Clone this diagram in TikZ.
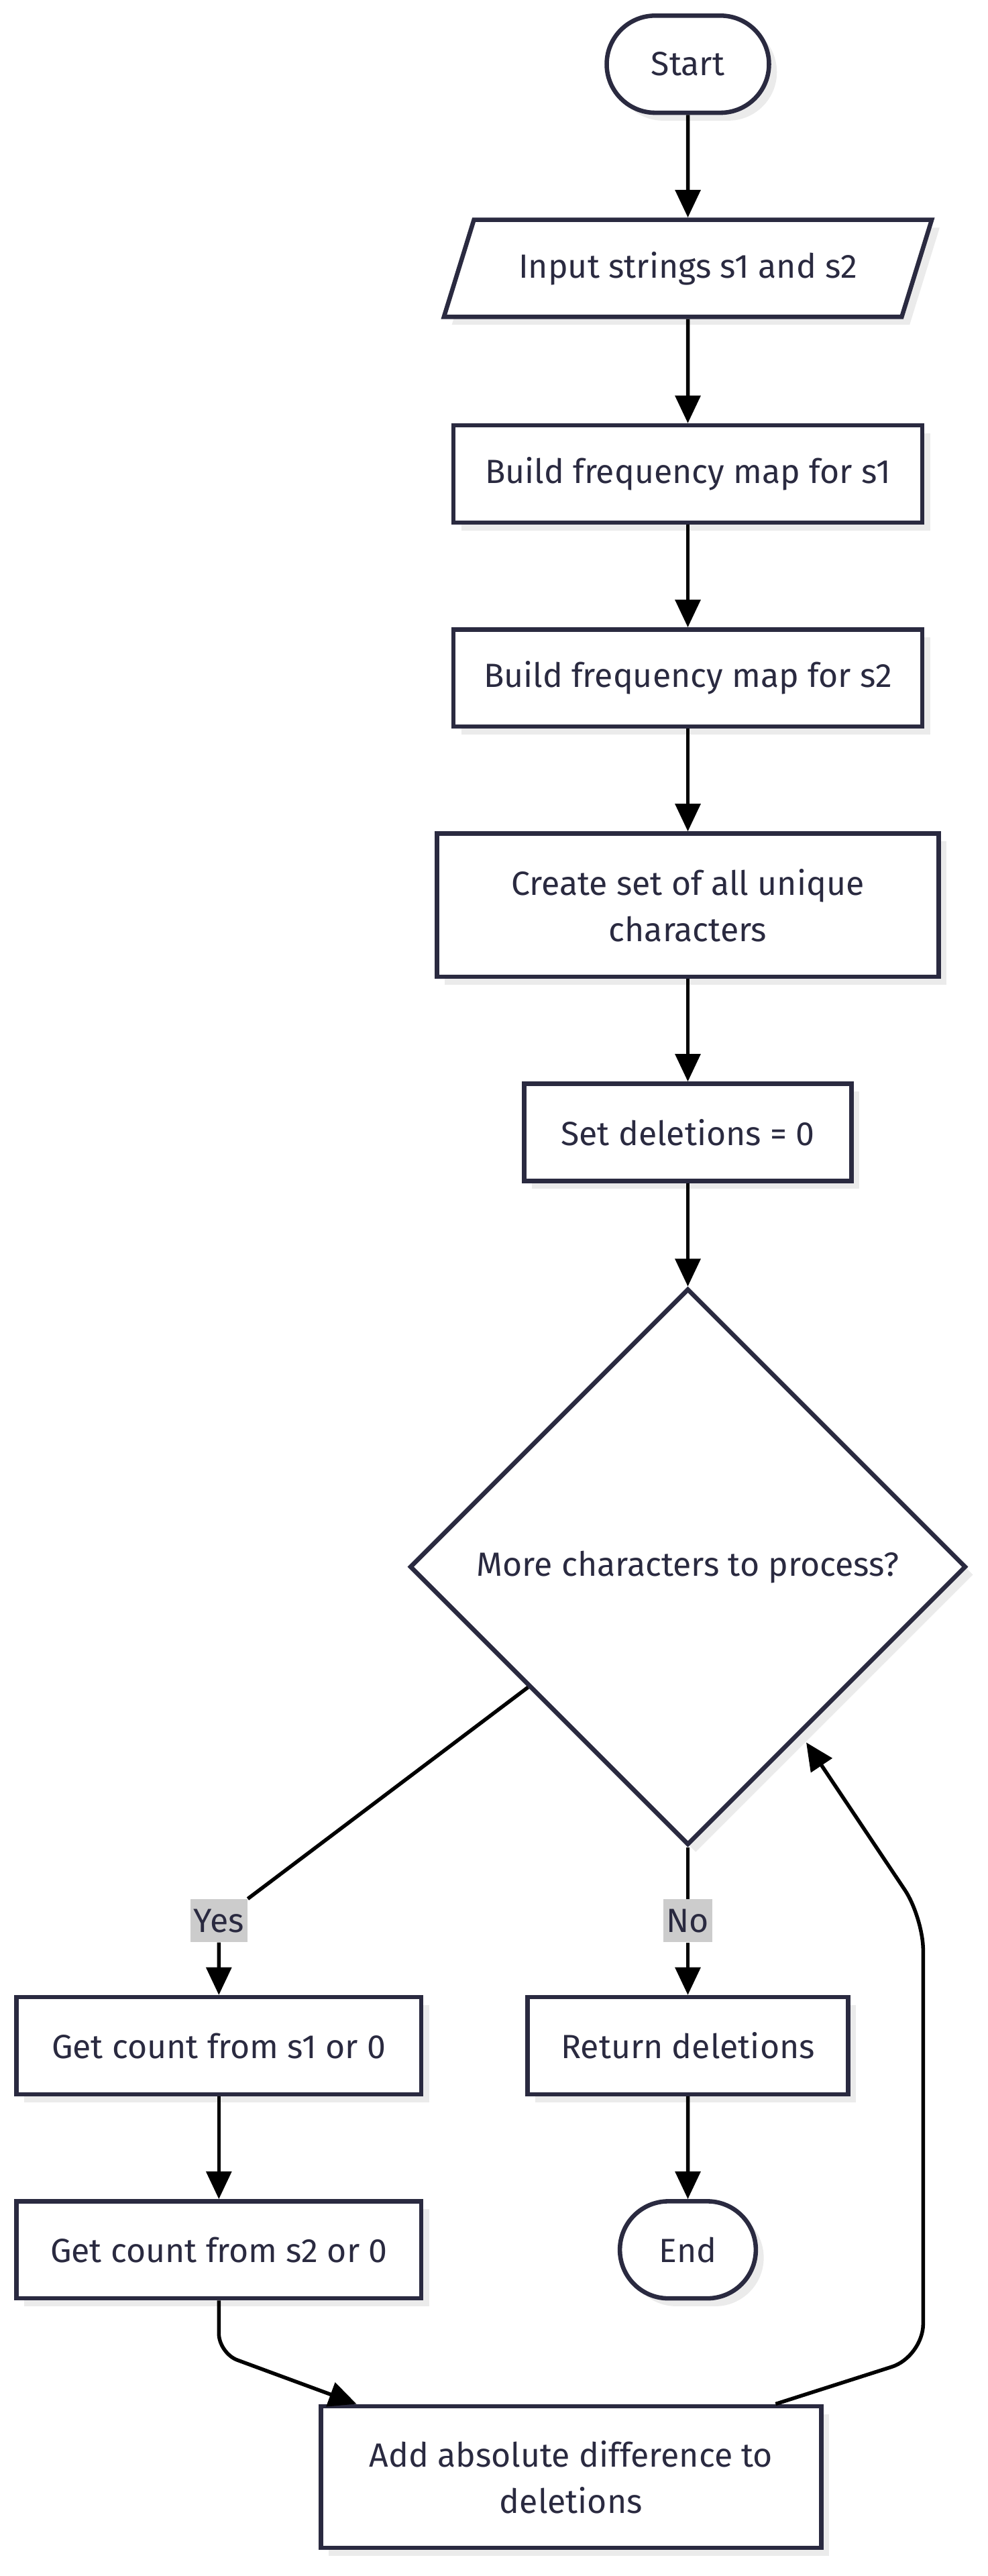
\documentclass[tikz,border=0pt]{standalone}
\usepackage{fontspec}
\setmainfont{Fira Sans}
\usetikzlibrary{shapes.geometric,shapes.misc,arrows.meta,shadows}
\definecolor{nodeline}{HTML}{2A2A40}
\definecolor{shadowgray}{HTML}{EBEBEB}
\definecolor{labelgray}{HTML}{CCCCCC}

\begin{document}
\begin{tikzpicture}[
		font=\fontsize{14.5}{20}\selectfont,
		box/.style={draw=nodeline, line width=1.9pt, fill=white, text=nodeline, align=center, minimum height=1.475cm,
			drop shadow={shadow xshift=0.12cm, shadow yshift=-0.12cm, fill=shadowgray, opacity=1}},
		term/.style={box, rounded rectangle},
		cond/.style={box, diamond, aspect=1, minimum width=8.45cm, minimum height=8.45cm},
		lbl/.style={fill=labelgray, text=nodeline, inner sep=1.5pt, minimum height=0.65cm},
		arr/.style={-{Triangle[length=0.42cm, width=0.38cm]}, line width=1.6pt, black}
	]
		\useasboundingbox (0,0) rectangle (15,-39.13);

		% Blocks
		\node[term, minimum width=2.7cm] (start) at (10.45,-0.975) {Start};
		\node[box, trapezium, trapezium left angle=63, trapezium right angle=117, trapezium stretches=true, minimum width=7.425cm] (input) at (10.45,-4.075) {Input strings s1 and s2};
		\node[box, minimum width=7.125cm] (freq1) at (10.45,-7.2) {Build frequency map for s1};
		\node[box, minimum width=7.125cm] (freq2) at (10.45,-10.3) {Build frequency map for s2};
		\node[box, minimum width=7.625cm, minimum height=2.175cm] (uniq) at (10.45,-13.75) {Create set of all unique\\characters};
		\node[box, minimum width=4.975cm] (init) at (10.45,-17.2) {Set deletions = 0};
		\node[cond] (more) at (10.45,-23.8) {More characters to process?};
		\node[lbl] (yes) at (3.325,-29.175) {Yes};
		\node[lbl] (no) at (10.45,-29.175) {No};
		\node[box, minimum width=6.15cm] (cnt1) at (3.325,-31.075) {Get count from s1 or 0};
		\node[box, minimum width=4.875cm] (ret) at (10.45,-31.075) {Return deletions};
		\node[box, minimum width=6.15cm] (cnt2) at (3.325,-34.175) {Get count from s2 or 0};
		\node[term, minimum width=2.3cm] (end) at (10.45,-34.175) {End};
		\node[box, minimum width=7.6cm, minimum height=2.15cm] (add) at (8.675,-37.625) {Add absolute difference to\\deletions};

		% Arrows
		\draw[arr] (start) -- (input);
		\draw[arr] (input) -- (freq1);
		\draw[arr] (freq1) -- (freq2);
		\draw[arr] (freq2) -- (uniq);
		\draw[arr] (uniq) -- (init);
		\draw[arr] (init) -- (more);
		\draw[arr] (more.217) -- (yes) -- (cnt1);
		\draw[arr] (more) -- (no) -- (ret);
		\draw[arr] (cnt1) -- (cnt2);
		\draw[arr] (ret) -- (end);
		\draw[arr, rounded corners=0.3cm] (cnt2.south) -- ++(0,-0.8) -- ([xshift=0.575cm]add.north west);
		\draw[arr, rounded corners=0.5cm, shorten >=0.15cm] ([xshift=-0.725cm]add.north east) -- (14.025,-35.8) -- (14.025,-29.125) -- (more.-56);

	\end{tikzpicture}
\end{document}
